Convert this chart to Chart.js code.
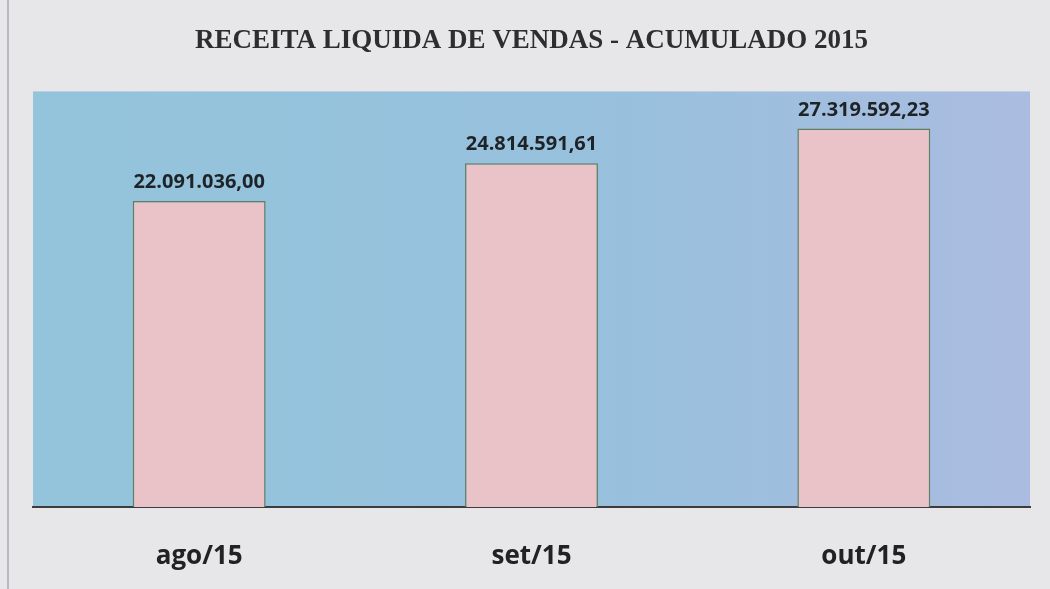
<!DOCTYPE html>
<html>
<head>
<meta charset="utf-8">
<script src="https://cdn.jsdelivr.net/npm/chart.js@4/dist/chart.umd.min.js"></script>
<style>
  html, body { margin: 0; padding: 0; background: #e7e7ea; }
  #wrap { width: 1050px; height: 589px; position: relative; }
</style>
</head>
<body>
<div id="wrap"><canvas id="chart"></canvas></div>
<script>
// Chart data
const months = ["ago/15", "set/15", "out/15"];
const revenue = [22091036.00, 24814591.61, 27319592.23];
const axisMax = 30000000;

// pt-BR style number: 22.091.036,00
function formatBRL(num) {
  const parts = num.toFixed(2).split(".");
  const intPart = parts[0].replace(/\B(?=(\d{3})+(?!\d))/g, ".");
  return intPart + "," + parts[1];
}

// Page + plot area background
const backgroundPlugin = {
  id: "bgFill",
  beforeDraw(chart) {
    const ctx = chart.ctx;
    const area = chart.chartArea;
    ctx.save();
    ctx.fillStyle = "#e7e7ea";
    ctx.fillRect(0, 0, chart.width, chart.height);
    // scan edge line on the left
    ctx.strokeStyle = "#b9b9bd";
    ctx.lineWidth = 2;
    ctx.beginPath();
    ctx.moveTo(8, 0);
    ctx.lineTo(8, chart.height);
    ctx.stroke();
    const grad = ctx.createLinearGradient(area.left, 0, area.right, 0);
    grad.addColorStop(0, "#93c4db");
    grad.addColorStop(0.6, "#98c0dd");
    grad.addColorStop(1, "#abbce0");
    ctx.fillStyle = grad;
    ctx.fillRect(area.left, area.top, area.right - area.left, area.bottom - area.top);
    ctx.restore();
  },
};

// Value labels above bars
const valueLabels = {
  id: "valueLabels",
  afterDatasetsDraw(chart) {
    const ctx = chart.ctx;
    const meta = chart.getDatasetMeta(0);
    ctx.save();
    ctx.font = "bold 20px 'Open Sans'";
    ctx.fillStyle = "#1e2328";
    ctx.textAlign = "center";
    ctx.textBaseline = "alphabetic";
    meta.data.forEach((bar, i) => {
      ctx.fillText(formatBRL(revenue[i]), bar.x, bar.y - 13);
    });
    ctx.restore();
  },
};

new Chart(document.getElementById("chart"), {
  type: "bar",
  data: {
    labels: months,
    datasets: [
      {
        data: revenue,
        backgroundColor: "#e9c3c7",
        borderColor: "#5e7f62",
        borderWidth: 1.5,
        barPercentage: 0.4,
        categoryPercentage: 1,
      },
    ],
  },
  options: {
    responsive: true,
    maintainAspectRatio: false,
    animation: false,
    layout: {
      padding: { left: 33, right: 20, top: 25, bottom: 17 },
    },
    plugins: {
      legend: { display: false },
      tooltip: { enabled: false },
      title: {
        display: true,
        text: "RECEITA LIQUIDA DE VENDAS - ACUMULADO 2015",
        color: "#2e2e30",
        font: { family: "'Liberation Serif'", size: 27, weight: "bold", lineHeight: 1.2 },
        padding: { top: 0, bottom: 34 },
      },
    },
    scales: {
      x: {
        grid: { display: false, drawTicks: false },
        border: { display: true, color: "#3c3c3e", width: 2 },
        ticks: {
          color: "#222",
          font: { family: "'Open Sans'", size: 26, weight: "bold", lineHeight: 1.2 },
          padding: 34,
        },
        afterFit(scale) {
          scale.height = 65;
        },
      },
      y: {
        display: false,
        min: 0,
        max: axisMax,
      },
    },
  },
  plugins: [backgroundPlugin, valueLabels],
});
</script>
</body>
</html>
